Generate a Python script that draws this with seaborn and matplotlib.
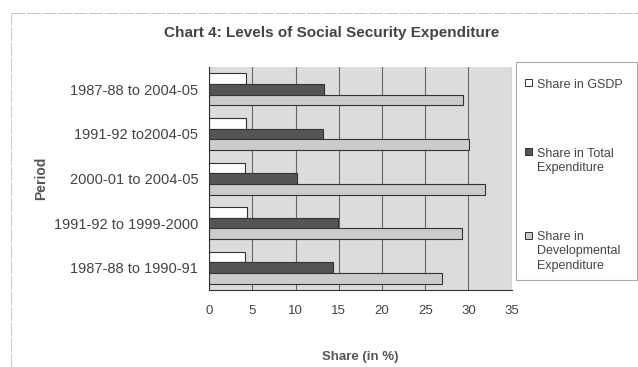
import matplotlib
matplotlib.use("Agg")
import matplotlib.pyplot as plt
from matplotlib.lines import Line2D
from matplotlib.patches import Rectangle
import pandas as pd
import seaborn as sns

periods = ["1987-88 to 2004-05", "1991-92 to2004-05", "2000-01 to 2004-05",
           "1991-92 to 1999-2000", "1987-88 to 1990-91"]
series = ["Share in GSDP", "Share in Total\nExpenditure",
          "Share in\nDevelopmental\nExpenditure"]
gsdp = [4.2, 4.2, 4.1, 4.4, 4.1]
total_exp = [13.3, 13.15, 10.15, 14.85, 14.35]
dev_exp = [29.4, 30.1, 31.9, 29.2, 26.9]
x_ticks = [0, 5, 10, 15, 20, 25, 30, 35]

rows = []
for name, vals in zip(series, [gsdp, total_exp, dev_exp]):
    for p, v in zip(periods, vals):
        rows.append({"period": p, "series": name, "share": v})
df = pd.DataFrame(rows)

sns.set_style("white")
plt.rcParams["font.family"] = ["Liberation Sans", "DejaVu Sans"]

fig = plt.figure(figsize=(6.38, 3.67), dpi=100)
ax = fig.add_axes([0.328, 0.21, 0.474, 0.607])
palette = ["#ffffff", "#555555", "#cccccc"]
sns.barplot(data=df, y="period", x="share", hue="series", order=periods,
            hue_order=series, palette=palette, orient="h", width=0.72,
            edgecolor="#333333", linewidth=0.8, saturation=1, ax=ax,
            legend=False)
ax.set_facecolor("#dcdcdc")
ax.set_xlim(0, 35)
ax.set_xticks(x_ticks)
ax.grid(axis="x", color="#666666", linewidth=0.8)
ax.set_axisbelow(True)
for s in ["top", "right"]:
    ax.spines[s].set_visible(False)
ax.spines["left"].set_color("#333333")
ax.spines["bottom"].set_color("#333333")
ax.tick_params(axis="x", length=4, labelsize=9.5, colors="#444444", pad=7)
ax.tick_params(axis="y", length=0, labelsize=10.5, colors="#444444", pad=8)
ax.set_yticks([i + 0.5 for i in range(-1, len(periods))], minor=True)
ax.tick_params(axis="y", which="minor", length=4, color="#333333")
ax.set_ylabel("Period", fontsize=10, fontweight="bold", color="#555555", labelpad=4)
ax.set_xlabel("Share (in %)", fontsize=9.5, fontweight="bold", color="#555555", labelpad=24)
fig.suptitle("Chart 4: Levels of Social Security Expenditure", x=0.52, y=0.93,
             fontsize=11, fontweight="bold", color="#444444")

# faint outer chart frame (top and left edges visible in the scan)
fig.lines.append(Line2D([0.017, 1.0], [0.965, 0.965], transform=fig.transFigure,
                        color="#c4c4c4", linewidth=0.7, linestyle=(0, (14, 2))))
fig.lines.append(Line2D([0.017, 0.017], [0.0, 0.965], transform=fig.transFigure,
                        color="#cccccc", linewidth=0.7, linestyle=(0, (14, 2))))

# legend box drawn to match the tall, sparse legend in the original
fig.patches.append(Rectangle((0.808, 0.237), 0.19, 0.593, transform=fig.transFigure,
                             facecolor="white", edgecolor="#aaaaaa", linewidth=0.8))
legend_y = [0.776, 0.588, 0.36]
for name, color, y in zip(series, palette, legend_y):
    fig.patches.append(Rectangle((0.823, y - 0.011), 0.011, 0.019, transform=fig.transFigure,
                                 facecolor=color, edgecolor="#333333", linewidth=0.7))
    fig.text(0.841, y + 0.01, name, fontsize=9, color="#444444", va="top",
             linespacing=1.25)

fig.savefig("out.png", dpi=100)
